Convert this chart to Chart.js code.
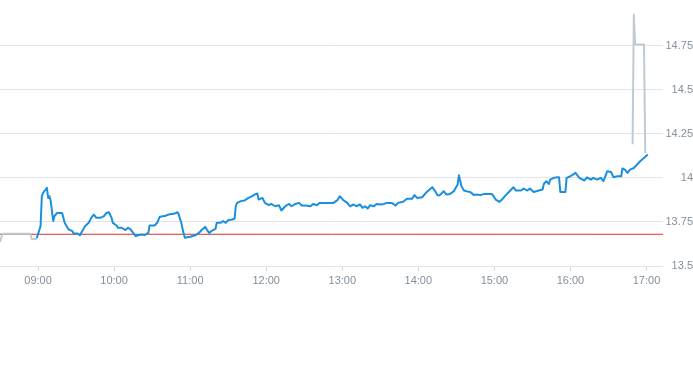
<!DOCTYPE html>
<html>
<head>
<meta charset="utf-8">
<script src="https://cdn.jsdelivr.net/npm/chart.js@4/dist/chart.umd.min.js"></script>
<style>
  html, body { margin: 0; padding: 0; background: #ffffff; }
  #wrap { width: 693px; height: 365px; position: relative; }
</style>
</head>
<body>
<div id="wrap"><canvas id="c" width="693" height="365"></canvas></div>
<script>
// ---- data ----
const sessionTimes = ["08:59","09:02","09:03","09:04","09:05","09:07","09:08","09:09","09:10","09:12",
"09:13","09:15","09:19","09:20","09:21","09:24","09:27","09:28","09:31","09:33",
"09:35","09:37","09:40","09:42","09:44","09:46","09:49","09:52","09:54","09:56",
"09:58","09:59","10:02","10:03","10:06","10:09","10:11","10:13","10:14","10:17",
"10:19","10:22","10:24","10:27","10:28","10:32","10:34","10:36","10:40","10:43",
"10:48","10:50","10:51","10:53","10:55","10:56","11:00","11:04","11:07","11:09",
"11:12","11:13","11:15","11:18","11:20","11:21","11:24","11:26","11:28","11:30",
"11:33","11:35","11:36","11:37","11:40","11:43","11:46","11:49","11:51","11:53",
"11:54","11:57","11:59","12:02","12:04","12:07","12:10","12:12","12:15","12:18",
"12:20","12:23","12:26","12:28","12:31","12:35","12:37","12:40","12:42","12:45",
"12:48","12:51","12:53","12:56","12:58","13:01","13:04","13:06","13:09","13:11",
"13:14","13:16","13:18","13:20","13:22","13:25","13:27","13:30","13:33","13:35",
"13:39","13:42","13:44","13:48","13:51","13:55","13:57","13:59","14:03","14:06",
"14:08","14:11","14:13","14:15","14:17","14:20","14:22","14:25","14:28","14:31",
"14:32","14:34","14:36","14:38","14:41","14:44","14:46","14:49","14:52","14:54",
"14:58","15:01","15:04","15:06","15:09","15:12","15:15","15:17","15:21","15:23",
"15:26","15:28","15:31","15:35","15:38","15:39","15:41","15:43","15:44","15:47",
"15:50","15:51","15:52","15:56","15:57","16:00","16:04","16:07","16:11","16:13",
"16:16","16:18","16:21","16:24","16:26","16:29","16:32","16:34","16:37","16:40",
"16:41","16:43","16:45","16:47","16:50","16:55","17:01"];
const sessionValues = [13.658,13.726,13.896,13.915,13.924,13.943,13.886,13.896,13.868,13.755,
13.783,13.801,13.801,13.773,13.745,13.708,13.698,13.685,13.685,13.674,
13.698,13.726,13.745,13.773,13.792,13.773,13.773,13.783,13.801,13.805,
13.773,13.745,13.730,13.717,13.717,13.704,13.717,13.708,13.698,13.670,
13.674,13.679,13.675,13.688,13.730,13.730,13.745,13.779,13.783,13.792,
13.798,13.805,13.792,13.745,13.679,13.660,13.666,13.674,13.688,13.704,
13.722,13.708,13.688,13.704,13.711,13.745,13.745,13.755,13.745,13.760,
13.764,13.768,13.839,13.858,13.868,13.872,13.886,13.896,13.906,13.911,
13.877,13.886,13.858,13.845,13.852,13.839,13.845,13.815,13.839,13.852,
13.839,13.852,13.858,13.843,13.843,13.839,13.852,13.845,13.858,13.858,
13.858,13.858,13.858,13.872,13.896,13.872,13.858,13.839,13.849,13.839,
13.849,13.830,13.839,13.826,13.845,13.839,13.852,13.849,13.852,13.858,
13.858,13.843,13.858,13.864,13.881,13.881,13.902,13.886,13.890,13.915,
13.928,13.947,13.928,13.902,13.902,13.924,13.906,13.909,13.924,13.962,
14.015,13.952,13.928,13.924,13.919,13.902,13.906,13.902,13.909,13.909,
13.909,13.877,13.864,13.877,13.902,13.924,13.947,13.928,13.928,13.939,
13.928,13.939,13.920,13.928,13.934,13.965,13.981,13.965,13.990,14.000,
14.003,14.003,13.920,13.920,14.000,14.009,14.028,14.000,13.985,14.003,
13.990,14.000,13.990,14.000,13.981,14.037,14.033,14.003,14.009,14.009,
14.053,14.047,14.028,14.047,14.056,14.094,14.132];

const preTimes  = ["08:30","08:32","08:54","08:55","08:59"];
const preValues = [13.636, 13.683, 13.683, 13.653, 13.653];

const postTimes  = ["16:49","16:50","16:51","16:58","16:59"];
const postValues = [14.190, 14.925, 14.756, 14.756, 14.139];

const referenceLevel = [13.68];

const xRange = ["08:30", "17:13"];
const xTickLabels = ["09:00","10:00","11:00","12:00","13:00","14:00","15:00","16:00","17:00"];
const yRange = [13.5, 14.96];
const yTickValues = [13.5, 13.75, 14, 14.25, 14.5, 14.75];

// ---- helpers ----
const toMin = s => { const [h, m] = s.split(":").map(Number); return h * 60 + m; };
const toLabel = v => { const h = Math.floor(v / 60), m = Math.round(v % 60); return String(h).padStart(2, "0") + ":" + String(m).padStart(2, "0"); };
const pts = (ts, vs) => ts.map((t, i) => ({ x: toMin(t), y: vs[i] }));

const xMin = toMin(xRange[0]), xMax = toMin(xRange[1]);
const tickColor = "#848f9a";
const gridColor = "#e4e4e4";

new Chart(document.getElementById("c"), {
  type: "line",
  data: {
    datasets: [
      { data: pts(sessionTimes, sessionValues), borderColor: "#1a8fde", borderWidth: 2, order: 1 },
      { data: pts(preTimes, preValues), borderColor: "#bfcad2", borderWidth: 2, order: 2 },
      { data: pts(postTimes, postValues), borderColor: "#bfcad2", borderWidth: 2, order: 2 },
      { data: [{ x: xMin, y: referenceLevel[0] }, { x: xMax, y: referenceLevel[0] }], borderColor: "#d3332a", borderWidth: 1, order: 3 }
    ]
  },
  options: {
    responsive: false,
    animation: false,
    devicePixelRatio: 1,
    parsing: false,
    layout: { padding: { left: 0, right: 0, top: 0, bottom: 77 } },
    elements: { point: { radius: 0, hoverRadius: 0 }, line: { tension: 0, fill: false, borderJoinStyle: "round" } },
    plugins: { legend: { display: false }, tooltip: { enabled: false } },
    scales: {
      x: {
        type: "linear",
        min: xMin,
        max: xMax,
        afterBuildTicks: s => { s.ticks = xTickLabels.map(l => ({ value: toMin(l) })); },
        afterFit: s => { s.height = 22; },
        ticks: {
          autoSkip: false, maxRotation: 0, padding: 3,
          color: tickColor,
          font: { family: "Liberation Sans", size: 11 },
          callback: v => toLabel(v)
        },
        grid: { drawOnChartArea: false, drawTicks: true, tickLength: 5, tickColor: "#d6d6d6" },
        border: { display: false }
      },
      y: {
        position: "right",
        min: yRange[0],
        max: yRange[1],
        afterBuildTicks: s => { s.ticks = yTickValues.map(v => ({ value: v })); },
        afterFit: s => { s.width = 30; },
        ticks: {
          padding: 2,
          crossAlign: "far",
          color: tickColor,
          font: { family: "Liberation Sans", size: 11 },
          callback: v => String(+v.toFixed(2))
        },
        grid: { color: gridColor, lineWidth: 1, drawTicks: false },
        border: { display: false }
      }
    }
  }
});
</script>
</body>
</html>
